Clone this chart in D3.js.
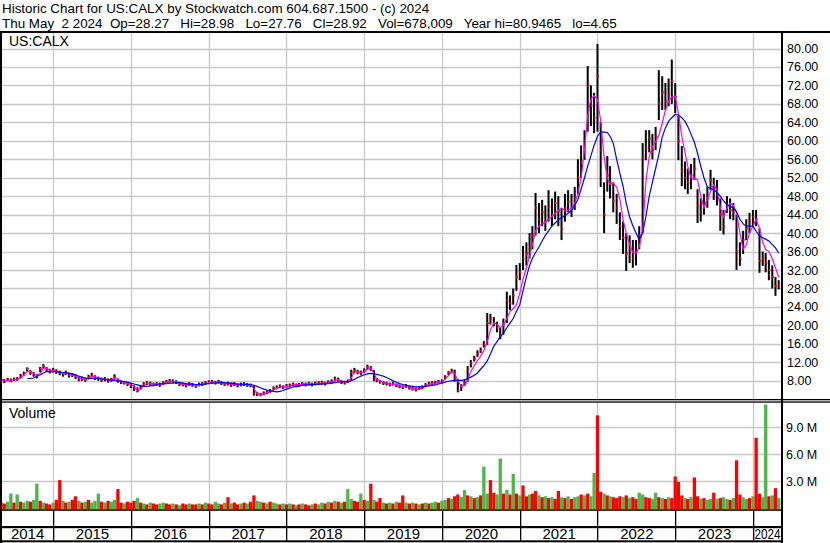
<!DOCTYPE html>
<html><head><meta charset="utf-8">
<script src="https://cdn.jsdelivr.net/npm/d3@7"></script>
<style>
body{margin:0;background:#fff;}
svg{display:block;font-family:"Liberation Sans",Arial,sans-serif;}
</style></head><body>
<svg id="c" width="830" height="543"></svg>
<script>
// ---- data (semi-monthly samples: 1st and 16th of each month, from May 2014) ----
const firstYear = 2014, firstMonth = 4;
const closes = [
8.2,7.9,8.3,8.1,8.3,8.4,9.0,9.6,10.6,9.8,
9.4,8.9,10.6,11.2,10.4,10.1,10.3,10.0,9.7,9.4,
9.8,9.2,9.3,8.9,8.3,8.5,8.2,8.8,9.2,8.7,
8.5,8.2,8.4,8.0,8.2,8.9,8.0,7.7,7.6,7.3,
7.0,6.3,5.9,6.6,7.3,7.5,7.4,7.2,7.3,7.1,
7.5,7.8,8.0,7.9,7.7,7.3,7.2,7.0,7.3,7.1,
6.8,7.2,7.3,7.5,7.7,7.8,7.6,7.8,7.5,7.3,
7.4,7.1,7.3,7.0,7.2,7.3,7.1,7.0,5.3,5.1,
5.0,5.3,5.5,5.8,6.4,6.6,6.8,6.6,6.9,7.0,
7.2,7.0,7.1,7.3,7.2,7.4,7.2,7.4,7.5,7.6,
7.4,7.7,7.8,8.4,8.2,7.7,7.6,7.9,9.8,10.3,
9.9,9.7,10.2,11.0,10.6,8.4,8.1,7.8,7.5,7.4,
7.2,7.4,7.0,6.8,6.6,6.9,6.5,6.3,6.1,6.4,
6.6,7.1,7.4,7.5,7.6,7.8,7.9,8.8,9.7,10.2,
8.6,5.9,6.8,7.6,10.5,11.8,12.8,13.9,14.6,15.8,
20.5,21.5,20.6,19.5,17.8,20.5,25.5,24.8,26.5,30.5,
31.5,34.5,35.5,37.0,39.5,45.5,43.0,44.5,42.5,45.8,
44.0,46.5,44.8,41.0,45.5,46.8,45.5,47.5,52.0,55.5,
60.0,72.0,67.5,65.0,74.0,58.0,44.0,52.5,51.0,47.0,
45.5,41.5,39.0,35.5,36.5,34.5,36.0,39.5,56.5,58.5,
60.5,58.0,61.0,68.0,70.5,68.5,70.0,73.0,69.5,60.0,
53.5,52.0,51.0,52.5,54.0,46.0,44.5,46.0,47.5,51.5,
49.5,48.5,44.0,41.5,46.0,45.0,44.5,36.0,34.5,38.5,
41.0,42.5,43.5,43.0,34.0,34.5,33.5,32.0,30.5,28.5,
28.9];
const highs = [
8.6,8.4,8.6,8.5,8.7,8.8,9.5,10.0,10.9,10.3,
9.9,9.4,11.0,11.6,11.0,10.6,10.8,10.5,10.2,9.9,
10.2,9.8,9.7,9.4,8.8,8.9,8.7,9.3,9.7,9.2,
8.9,8.7,8.8,8.5,8.6,9.4,8.5,8.1,8.0,7.8,
7.5,7.0,6.6,7.1,7.7,7.9,7.8,7.6,7.7,7.6,
7.9,8.2,8.4,8.3,8.1,7.8,7.6,7.5,7.7,7.5,
7.3,7.6,7.7,7.9,8.1,8.2,8.0,8.2,7.9,7.7,
7.8,7.6,7.7,7.4,7.6,7.7,7.5,7.4,7.1,5.6,
5.4,5.7,5.9,6.2,6.8,7.0,7.2,7.0,7.3,7.4,
7.6,7.4,7.5,7.7,7.6,7.8,7.6,7.8,7.9,8.0,
7.8,8.1,8.3,8.9,8.7,8.1,8.0,8.3,10.4,10.8,
10.4,10.2,10.7,11.5,11.2,10.3,8.6,8.2,7.9,7.8,
7.6,7.8,7.4,7.2,7.0,7.3,6.9,6.7,6.5,6.8,
7.0,7.5,7.8,7.9,8.0,8.2,8.3,9.2,10.1,10.6,
10.4,8.4,7.3,8.2,11.2,12.5,13.4,14.6,15.2,16.6,
22.7,22.5,21.8,20.8,19.5,21.5,27.3,26.5,28.0,33.1,
33.5,37.2,38.0,40.0,41.5,48.7,46.5,47.2,46.0,49.3,
47.5,49.0,48.0,45.5,48.5,49.3,48.5,50.0,56.0,59.0,
62.3,76.2,72.0,70.4,81.0,64.0,51.0,56.7,54.5,51.0,
48.5,44.5,42.5,40.0,39.5,38.5,38.5,41.5,59.5,62.3,
62.3,61.5,63.0,75.3,74.0,72.5,73.5,77.6,72.5,65.4,
58.9,55.5,54.0,55.0,56.3,49.5,47.5,48.5,50.0,53.7,
52.0,51.5,47.5,45.0,48.0,47.5,46.5,44.0,38.0,40.5,
43.0,44.4,45.0,45.0,41.0,36.0,35.7,34.2,33.0,30.5,
29.8];
const lows = [
7.8,7.5,7.9,7.7,7.9,8.0,8.5,9.1,10.0,9.3,
8.9,8.5,9.9,10.6,9.9,9.6,9.8,9.5,9.2,8.9,
9.3,8.7,8.8,8.4,7.9,8.0,7.8,8.3,8.7,8.2,
8.0,7.8,7.9,7.6,7.8,8.3,7.6,7.3,7.2,6.9,
6.4,5.8,5.5,6.1,6.9,7.1,7.0,6.8,6.9,6.7,
7.1,7.4,7.6,7.5,7.3,6.9,6.8,6.6,6.9,6.7,
6.5,6.8,6.9,7.1,7.3,7.4,7.2,7.4,7.1,6.9,
7.0,6.7,6.9,6.6,6.8,6.9,6.7,6.6,4.8,4.7,
4.65,4.9,5.1,5.4,6.0,6.2,6.4,6.2,6.5,6.6,
6.8,6.6,6.7,6.9,6.8,7.0,6.8,7.0,7.1,7.2,
7.0,7.3,7.4,7.9,7.8,7.3,7.2,7.5,8.0,9.6,
9.4,9.2,9.7,10.4,10.1,7.9,7.7,7.4,7.1,7.0,
6.8,7.0,6.6,6.4,6.2,6.5,6.1,5.9,5.7,6.0,
6.2,6.7,7.0,7.1,7.2,7.4,7.5,8.3,9.2,9.7,
7.8,5.5,5.8,6.9,7.8,10.9,12.2,13.2,14.0,15.2,
15.8,20.2,19.8,18.5,17.0,18.0,20.5,23.3,24.5,27.5,
29.8,32.0,33.0,34.5,36.5,39.5,40.0,41.5,40.5,42.5,
41.5,43.0,41.5,38.5,42.5,44.5,43.5,45.0,48.5,52.0,
55.9,62.0,63.2,61.7,62.0,50.0,40.0,49.0,47.5,44.5,
42.0,38.5,35.5,31.8,33.5,32.5,33.0,36.5,40.0,55.8,
57.5,56.0,58.0,64.5,66.7,66.7,67.5,68.0,66.0,55.8,
50.2,49.5,48.5,49.5,51.5,42.2,42.5,44.0,45.5,49.3,
47.2,46.0,40.5,39.7,44.4,43.0,42.8,32.0,32.9,35.5,
38.5,40.0,41.5,41.5,31.4,32.9,31.5,29.8,28.0,26.4,
27.8];
const maShort = [
8.2,8.1,8.1,8.2,8.2,8.3,8.6,9.2,10.0,10.1,
9.6,9.2,9.6,10.7,10.8,10.3,10.2,10.1,9.9,9.6,
9.6,9.5,9.3,9.1,8.6,8.4,8.3,8.5,8.9,8.9,
8.6,8.4,8.3,8.2,8.1,8.5,8.4,7.9,7.7,7.5,
7.2,6.7,6.2,6.2,6.9,7.4,7.4,7.3,7.3,7.2,
7.3,7.6,7.9,7.9,7.8,7.5,7.3,7.1,7.1,7.2,
7.0,7.0,7.2,7.4,7.6,7.7,7.7,7.7,7.6,7.4,
7.4,7.3,7.2,7.2,7.1,7.2,7.2,7.1,6.3,5.3,
5.1,5.1,5.4,5.6,6.0,6.4,6.7,6.7,6.8,6.9,
7.1,7.1,7.1,7.2,7.3,7.3,7.3,7.3,7.4,7.5,
7.5,7.5,7.7,8.0,8.3,8.0,7.7,7.7,8.6,9.9,
10.1,9.8,9.9,10.5,10.8,9.6,8.4,8.0,7.7,7.5,
7.3,7.3,7.2,6.9,6.7,6.7,6.7,6.4,6.2,6.2,
6.5,6.8,7.2,7.4,7.5,7.7,7.8,8.3,9.1,9.9,
9.6,8.0,6.8,7.0,8.0,10.0,11.3,12.4,13.3,14.5,
16.5,19.0,20.5,20.3,19.5,20.0,21.5,23.0,23.6,24.5,
27.0,30.0,32.5,35.0,37.5,40.5,41.5,42.0,42.3,43.0,
43.6,44.3,45.0,45.3,45.0,45.0,45.4,46.5,48.5,52.0,
58.0,65.5,69.0,69.8,69.0,64.3,56.5,51.8,50.6,50.8,
50.0,47.3,43.0,40.0,37.5,35.8,35.7,37.0,40.5,51.0,
56.7,58.7,59.8,61.2,63.8,66.7,68.6,69.5,69.7,66.0,
61.0,57.5,54.5,52.0,51.8,51.6,48.0,45.5,47.5,49.0,
50.5,49.5,45.5,43.5,45.5,46.5,46.0,44.5,40.0,36.5,
37.5,40.0,41.5,43.0,41.0,38.0,36.5,36.0,34.5,32.5,
30.5];
const maLong = [
null,null,null,null,null,null,null,null,8.5,8.5,
8.6,9.0,9.3,9.7,10.0,10.0,10.0,10.0,9.9,9.8,
9.7,9.6,9.5,9.3,9.0,8.8,8.6,8.5,8.5,8.6,
8.5,8.4,8.3,8.2,8.2,8.1,8.0,7.9,7.8,7.7,
7.5,7.3,7.1,6.9,6.8,6.8,6.9,7.0,7.2,7.3,
7.4,7.4,7.5,7.5,7.6,7.6,7.5,7.4,7.3,7.3,
7.2,7.2,7.2,7.3,7.4,7.5,7.5,7.6,7.6,7.6,
7.5,7.5,7.4,7.3,7.3,7.2,7.2,7.2,7.0,6.8,
6.5,6.2,6.0,5.8,5.7,5.6,5.7,5.9,6.2,6.4,
6.7,6.8,6.9,7.0,7.1,7.1,7.2,7.2,7.3,7.3,
7.4,7.4,7.5,7.6,7.7,7.8,7.8,7.8,8.0,8.3,
8.7,9.0,9.3,9.5,9.6,9.5,9.4,9.2,9.0,8.7,
8.4,8.0,7.7,7.4,7.2,7.0,6.9,6.8,6.7,6.7,
6.7,6.8,6.9,7.0,7.1,7.3,7.5,7.7,7.9,8.0,
8.1,8.1,8.1,8.2,8.5,8.8,9.2,9.7,10.5,11.3,
12.3,13.8,15.5,16.5,17.5,18.3,19.5,20.5,21.5,23.0,
24.5,27.5,30.5,33.0,34.5,35.8,37.0,38.3,39.5,40.5,
41.5,42.2,42.9,43.3,43.8,44.3,44.9,46.0,47.3,49.5,
52.0,54.5,56.8,59.0,61.0,61.9,61.9,61.8,61.0,59.5,
56.0,53.0,50.2,46.5,43.5,41.6,40.0,38.6,40.0,43.5,
48.0,51.0,54.0,57.0,60.8,62.8,64.2,65.0,65.7,65.6,
65.0,64.2,63.1,61.5,59.7,57.3,54.5,52.0,50.0,49.7,
49.4,48.8,48.0,47.0,46.2,45.8,45.5,44.6,43.0,42.0,
41.5,41.5,41.5,40.4,39.4,39.0,38.7,38.3,37.5,36.8,
35.7];
// volume in millions
const volumes = [
0.6,0.5,0.7,1.6,0.6,1.5,0.7,0.6,0.8,0.7,
0.9,2.7,0.8,0.6,0.5,0.4,0.6,0.9,3.1,0.8,
0.6,0.7,0.9,1.3,0.8,0.6,0.7,0.9,0.6,0.8,
1.6,0.7,0.6,0.8,0.7,0.9,2.1,0.6,0.5,0.7,
0.6,0.8,1.1,0.6,0.5,0.4,0.6,0.5,0.4,0.5,
0.6,0.5,0.4,0.5,0.4,0.3,0.5,0.4,0.5,0.4,
0.4,0.5,0.4,0.6,0.5,0.4,0.7,0.5,0.4,0.6,
1.2,0.5,0.6,0.4,0.5,0.6,0.5,0.7,1.4,0.8,
0.7,0.6,0.5,0.7,0.6,0.5,0.4,0.5,0.4,0.5,
0.4,0.3,0.4,0.5,0.4,0.3,0.4,0.5,0.4,0.6,
0.5,0.7,0.6,0.8,0.7,0.6,0.7,2.1,1.0,0.8,
0.7,1.6,0.9,0.8,2.7,0.9,0.7,1.1,0.6,0.5,
0.6,0.5,0.7,0.6,1.4,0.6,0.5,0.6,0.5,0.4,
0.5,0.6,0.5,0.6,0.7,0.6,0.8,0.9,1.1,1.0,
1.3,1.5,1.2,2.0,1.4,1.3,1.1,1.2,1.4,4.6,
1.6,3.1,1.7,1.5,5.5,1.6,2.0,1.5,3.8,1.6,
1.4,2.5,1.3,1.5,1.6,1.9,1.4,1.2,1.3,1.1,
1.2,1.0,1.9,1.2,1.1,1.3,1.0,1.2,1.3,1.5,
1.4,1.6,1.3,3.9,10.3,1.8,1.6,1.4,1.3,1.2,
1.1,1.3,1.2,1.4,1.1,1.2,1.0,1.7,1.5,1.2,
1.1,1.0,1.7,1.2,1.1,1.0,1.2,1.1,3.5,2.9,
1.4,1.1,1.0,1.2,3.4,1.3,1.0,1.1,0.9,1.0,
1.7,1.0,1.1,1.2,1.0,0.9,1.1,5.3,1.5,1.2,
1.0,1.1,1.3,7.8,1.6,1.2,11.5,1.3,1.4,2.2,
1.1];
// g = up volume (green), r = down volume (red)
const volumeDirs =
"rrggrgrggr"+"ggrgrrgrrg"+"rgrrgrgrgg"+"grgrggrrgr"+"rrgrgrgrrg"+
"grrgrgrrgr"+"rgrgrrggrg"+"rgrrgrgrrg"+"grgrggrgrg"+"rgrgrrgrgg"+
"rgrgrgrggr"+"rgrgrgrrgr"+"grgrrgrgrg"+"rgrggrggrg"+"rrggrgrgrg"+
"grrggrgrgr"+"grrgrrgrgr"+"grrgrgrggr"+"grggrrgrgr"+"rrgrgrrggr"+
"rggrgrgrrr"+"rgrgrrgrgg"+"rgrggrgrrg"+"grgrrggrgr"+"g";
const priceTicks = [8,12,16,20,24,28,32,36,40,44,48,52,56,60,64,68,72,76,80];
const volumeTicks = [3,6,9];
const yearLabels = ["2014","2015","2016","2017","2018","2019","2020","2021","2022","2023","2024"];
const titleLine = "Historic Chart for US:CALX by Stockwatch.com 604.687.1500 - (c) 2024";
const quoteLine = "Thu May  2 2024  Op=28.27   Hi=28.98   Lo=27.76   Cl=28.92   Vol=678,009   Year hi=80.9465   lo=4.65";
const symbolLabel = "US:CALX";

// ---- layout ----
const L = 2, R = 781;
const priceTop = 33, priceBot = 399;
const volTop = 402, volBot = 509.5;

const dates = closes.map((_, i) => new Date(firstYear, firstMonth + Math.floor(i / 2), i % 2 ? 16 : 1));
const x = d3.scaleTime().domain([new Date(2014, 4, 1), new Date(2024, 4, 12)]).range([1, 781]);
const yP = d3.scaleLinear().domain([8, 80]).range([380.8, 48.5]);
const yV = d3.scaleLinear().domain([0, 12]).range([508, 400]);

const svg = d3.select("#c");
svg.append("rect").attr("width", 830).attr("height", 543).attr("fill", "#fff");

const defs = svg.append("defs");
defs.append("clipPath").attr("id", "pc").append("rect").attr("x", L).attr("y", priceTop).attr("width", R - L).attr("height", priceBot - priceTop);
defs.append("clipPath").attr("id", "vc").append("rect").attr("x", L).attr("y", volTop + 1).attr("width", R - L).attr("height", volBot - volTop - 1);

const yearBounds = d3.range(2015, 2025).map(y => x(new Date(y, 0, 1)));
const grid = "#c8c8c8";

// price grid
const gP = svg.append("g");
gP.selectAll(".h").data(priceTicks).join("line")
  .attr("x1", L).attr("x2", R).attr("y1", d => Math.round(yP(d)) + 0.5).attr("y2", d => Math.round(yP(d)) + 0.5)
  .attr("stroke", grid).attr("stroke-width", 1.3);
gP.selectAll(".v").data(yearBounds).join("line")
  .attr("x1", d => Math.round(d) + 0.5).attr("x2", d => Math.round(d) + 0.5).attr("y1", priceTop).attr("y2", priceBot)
  .attr("stroke", grid).attr("stroke-width", 1.3);

// volume grid
const gV = svg.append("g");
gV.selectAll(".h").data(volumeTicks).join("line")
  .attr("x1", L).attr("x2", R).attr("y1", d => Math.round(yV(d)) + 0.5).attr("y2", d => Math.round(yV(d)) + 0.5)
  .attr("stroke", grid).attr("stroke-width", 1.3);
gV.selectAll(".v").data(yearBounds).join("line")
  .attr("x1", d => Math.round(d) + 0.5).attr("x2", d => Math.round(d) + 0.5).attr("y1", volTop).attr("y2", volBot)
  .attr("stroke", grid).attr("stroke-width", 1.3);

// price bars
const bars = svg.append("g").attr("clip-path", "url(#pc)");
bars.selectAll("rect.b").data(closes).join("rect")
  .attr("x", (d, i) => x(dates[i]) - 1).attr("width", 2)
  .attr("y", (d, i) => yP(highs[i]))
  .attr("height", (d, i) => Math.max(1.5, yP(lows[i]) - yP(highs[i])))
  .attr("fill", "#000");
bars.selectAll("rect.c").data(closes).join("rect")
  .attr("x", (d, i) => x(dates[i]) - 0.3).attr("width", 1.8)
  .attr("y", d => yP(d) - 1).attr("height", 2)
  .attr("fill", "#ff0000");

const line = arr => d3.line().defined(d => d != null).x((d, i) => x(dates[i])).y(d => yP(d))(arr);
bars.append("path").attr("d", line(maShort)).attr("fill", "none").attr("stroke", "#ff00ff").attr("stroke-width", 1.2);
bars.append("path").attr("d", line(maLong)).attr("fill", "none").attr("stroke", "#0000ff").attr("stroke-width", 1.2);

// volume bars
const vb = svg.append("g").attr("clip-path", "url(#vc)");
vb.selectAll("rect").data(volumes).join("rect")
  .attr("x", (d, i) => x(dates[i]) - 1.6).attr("width", 3.3)
  .attr("y", d => yV(d)).attr("height", d => volBot - yV(d))
  .attr("fill", (d, i) => volumeDirs[i] === "g" ? "#4cb648" : "#ff0000");

// frame lines
const blk = "#000";
const frame = svg.append("g").attr("fill", blk);
frame.append("rect").attr("x", 0).attr("y", 31).attr("width", 830).attr("height", 2);
frame.append("rect").attr("x", 0).attr("y", 31).attr("width", 2).attr("height", 512);
frame.append("rect").attr("x", 781).attr("y", 31).attr("width", 2).attr("height", 512);
frame.append("rect").attr("x", 0).attr("y", 399).attr("width", 830).attr("height", 1.3);
frame.append("rect").attr("x", 0).attr("y", 401.4).attr("width", 830).attr("height", 1.3);
frame.append("rect").attr("x", 0).attr("y", 509.3).attr("width", 783).attr("height", 1.5);
frame.append("rect").attr("x", 0).attr("y", 526).attr("width", 783).attr("height", 2.2);
frame.append("rect").attr("x", 0).attr("y", 540.3).attr("width", 783).attr("height", 2);
frame.selectAll(".yb").data(yearBounds).join("rect")
  .attr("x", d => Math.round(d)).attr("width", 1.3).attr("y", 510).attr("height", 31);

// axis labels
const axP = svg.append("g").attr("font-size", 12.5).attr("fill", "#000");
axP.selectAll("text").data(priceTicks).join("text")
  .attr("x", 787).attr("y", d => yP(d) + 4.5).text(d => d.toFixed(2));
const axV = svg.append("g").attr("font-size", 12.5).attr("fill", "#000");
axV.selectAll("text").data(volumeTicks).join("text")
  .attr("x", 786).attr("y", d => yV(d) + 4.5).text(d => d.toFixed(1) + " M");

// year labels
const edges = [1].concat(yearBounds).concat([781]);
const yl = svg.append("g").attr("font-size", 15).attr("fill", "#000").attr("text-anchor", "middle");
yearLabels.forEach((lab, i) => {
  const a = edges[i], b = edges[i + 1];
  const t = yl.append("text").attr("x", (a + b) / 2 + 0.5).attr("y", 539).text(lab);
  const w = t.node().getComputedTextLength();
  if (w > b - a - 2) t.attr("textLength", b - a - 2).attr("lengthAdjust", "spacingAndGlyphs");
});

// header
const hd = svg.append("g").attr("font-size", 13.4).attr("fill", "#000");
hd.append("text").attr("x", 2).attr("y", 13).text(titleLine);
hd.append("text").attr("x", 2).attr("y", 28.3).attr("xml:space", "preserve").style("white-space", "pre").text(quoteLine);

svg.append("text").attr("x", 9).attr("y", 45.5).attr("font-size", 14).attr("fill", "#000").text(symbolLabel);
svg.append("text").attr("x", 9).attr("y", 418).attr("font-size", 14).attr("fill", "#000").text("Volume");
</script>
</body></html>
